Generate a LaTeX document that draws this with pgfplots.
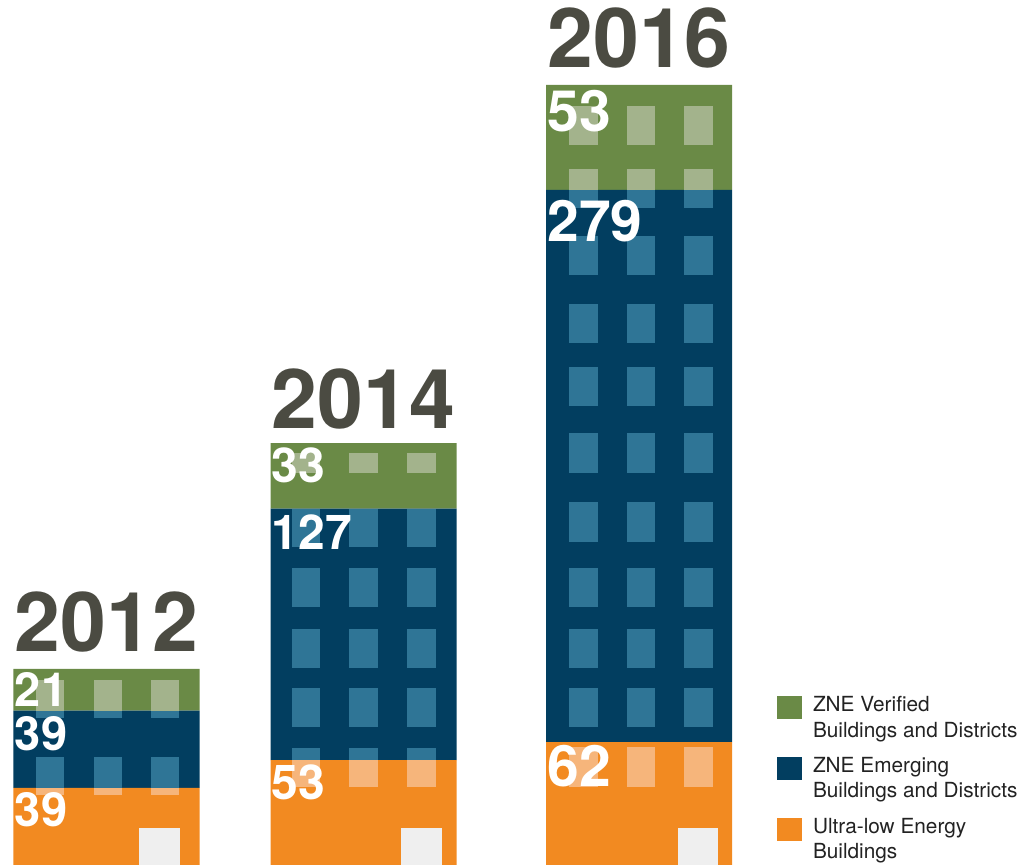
\documentclass[border=0pt]{standalone}
\usepackage{pgfplots}
\pgfplotsset{compat=1.18}
\usepackage{fontspec}
\setmainfont{TeX Gyre Heros}
\definecolor{cGreen}{HTML}{6A8A46}
\definecolor{cBlue}{HTML}{023E60}
\definecolor{cOrange}{HTML}{F28A21}
\definecolor{wGreen}{HTML}{A3B38C}
\definecolor{wBlue}{HTML}{2F7596}
\definecolor{wOrange}{HTML}{F6B57B}
\definecolor{doorc}{HTML}{EFEFEF}
\definecolor{yeartxt}{HTML}{4B4B42}
\definecolor{legtxt}{HTML}{222222}

% decorative windows (pixel coordinates of a 1025x866 canvas)
\newcommand\win[5]{\addplot[fill=#1,draw=none] coordinates {(#2,#4) (#3,#4) (#3,#5) (#2,#5)};}
\newcommand\rowA[3]{\win{#1}{36}{64}{#2}{#3}\win{#1}{94}{122}{#2}{#3}\win{#1}{151}{179}{#2}{#3}}
\newcommand\rowB[3]{\win{#1}{292}{320}{#2}{#3}\win{#1}{349}{378}{#2}{#3}\win{#1}{407}{436}{#2}{#3}}
\newcommand\rowC[3]{\win{#1}{569}{598}{#2}{#3}\win{#1}{627}{655}{#2}{#3}\win{#1}{684}{713}{#2}{#3}}

\newcommand\yearfont{\fontsize{41.25}{45}\bfseries\selectfont}
\newcommand\lblA{\fontsize{23.5}{26}\bfseries\selectfont}
\newcommand\lblB{\fontsize{24}{27}\bfseries\selectfont}
\newcommand\lblC{\fontsize{28.5}{31}\bfseries\selectfont}

\begin{document}
\begin{tikzpicture}
% ---------- bars (data units) ----------
\begin{axis}[
  at={(0,0)}, anchor=south west,
  width=512.5pt, height=433pt, scale only axis,
  xmin=0, xmax=1025, ymin=-0.50505, ymax=436.8687,
  hide axis, clip=false,
  ybar stacked, bar width=186,
  reverse legend,
  legend cell align=left,
  legend image code/.code={\fill[#1] (0pt,-0.6pt) rectangle (12.5pt,10.9pt);},
  legend style={at={(0.75805,0.19573)}, anchor=north west,
    draw=none, fill=none, inner sep=0pt, outer sep=0pt,
    row sep=8.6pt, column sep=5.5pt,
    font=\fontsize{10.4}{12.6}\selectfont, text=legtxt,
    nodes={inner sep=0pt, align=left}},
]
\addplot[fill=cOrange, draw=none] coordinates {(106.5,39) (363.5,53) (639,62)};
\addlegendentry{Ultra-low Energy\\Buildings}
\addplot[fill=cBlue, draw=none] coordinates {(106.5,39) (363.5,127) (639,279)};
\addlegendentry{ZNE Emerging\\Buildings and Districts}
\addplot[fill=cGreen, draw=none] coordinates {(106.5,21) (363.5,33) (639,53)};
\addlegendentry{ZNE Verified\\Buildings and Districts}
\end{axis}
% ---------- decoration and labels (pixel units) ----------
\begin{axis}[
  at={(0,0)}, anchor=south west,
  width=512.5pt, height=433pt, scale only axis,
  xmin=0, xmax=1025, ymin=0, ymax=866, y dir=reverse,
  hide axis, clip=false,
]
% 2012
\rowA{wGreen}{680}{710.6}
\rowA{wBlue}{710.6}{718}
\rowA{wBlue}{757}{787.8}
\rowA{wOrange}{787.8}{795}
% 2014
\rowB{wGreen}{453}{473}
\rowB{wBlue}{509}{547}
\rowB{wBlue}{568}{607}
\rowB{wBlue}{629}{668}
\rowB{wBlue}{688}{727}
\rowB{wBlue}{748}{760.1}
\rowB{wOrange}{760.1}{787}
% 2016
\rowC{wGreen}{106}{145}
\rowC{wGreen}{169}{189.8}
\rowC{wBlue}{189.8}{208}
\rowC{wBlue}{236}{275}
\rowC{wBlue}{304}{343}
\rowC{wBlue}{367}{406}
\rowC{wBlue}{433}{473}
\rowC{wBlue}{502}{542}
\rowC{wBlue}{568}{607}
\rowC{wBlue}{629}{668}
\rowC{wBlue}{688}{727}
\rowC{wOrange}{747}{787}
% doors
\win{doorc}{139}{180}{828}{865}
\win{doorc}{401}{442}{828}{865}
\win{doorc}{678}{718}{828}{865}
% year labels
\node[anchor=base, inner sep=0pt, font=\yearfont, text=yeartxt] at (axis cs:106.5,652) {2012};
\node[anchor=base, inner sep=0pt, font=\yearfont, text=yeartxt] at (axis cs:363.5,429) {2014};
\node[anchor=base, inner sep=0pt, font=\yearfont, text=yeartxt] at (axis cs:639,67.9) {2016};
% value labels
\node[anchor=north west, inner sep=0pt, font=\lblA, text=white] at (axis cs:14.5,672) {21};
\node[anchor=north west, inner sep=0pt, font=\lblA, text=white] at (axis cs:14.5,715.6) {39};
\node[anchor=north west, inner sep=0pt, font=\lblA, text=white] at (axis cs:14.5,791.8) {39};
\node[anchor=north west, inner sep=0pt, font=\lblB, text=white] at (axis cs:271.5,447.3) {33};
\node[anchor=north west, inner sep=0pt, font=\lblB, text=white] at (axis cs:271.5,514.6) {127};
\node[anchor=north west, inner sep=0pt, font=\lblB, text=white] at (axis cs:271.5,764.1) {53};
\node[anchor=north west, inner sep=0pt, font=\lblC, text=white] at (axis cs:547,89.9) {53};
\node[anchor=north west, inner sep=0pt, font=\lblC, text=white] at (axis cs:547,199.8) {279};
\node[anchor=north west, inner sep=0pt, font=\lblC, text=white] at (axis cs:547,745.2) {62};
\end{axis}
\pgfresetboundingbox
\useasboundingbox (0,0) rectangle (512.5pt,433pt);
\end{tikzpicture}
\end{document}
